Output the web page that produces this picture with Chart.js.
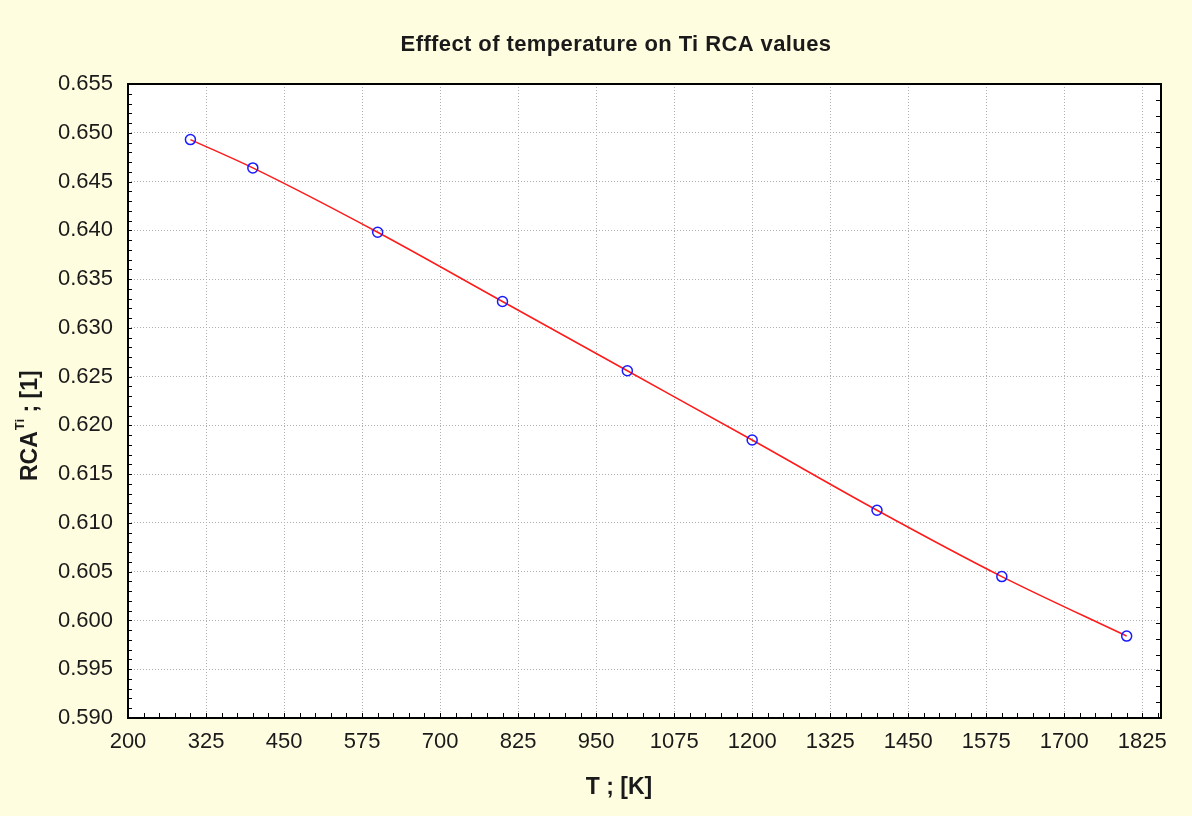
<!DOCTYPE html>
<html>
<head>
<meta charset="utf-8">
<script src="https://cdn.jsdelivr.net/npm/chart.js@4"></script>
<style>
  html, body { margin: 0; padding: 0; background: #fffde0; }
  canvas { display: block; }
</style>
</head>
<body>
<canvas id="chart" width="1192" height="816"></canvas>
<script>
// data
const temps = [300, 400, 600, 800, 1000, 1200, 1400, 1600, 1800];
const rca = [0.6493, 0.6464, 0.6398, 0.6327, 0.6256, 0.6185, 0.6113, 0.6045, 0.5984];
const xTicks = [200, 325, 450, 575, 700, 825, 950, 1075, 1200, 1325, 1450, 1575, 1700, 1825];
const yTicks = [0.590, 0.595, 0.600, 0.605, 0.610, 0.615, 0.620, 0.625, 0.630, 0.635, 0.640, 0.645, 0.650, 0.655];

const sans = '"Liberation Sans", Arial, sans-serif';
const ink = '#1a1a1a';

// background, white plot area, frame, minor ticks and texts
const decor = {
  id: 'decor',
  beforeDraw(chart) {
    const { ctx, chartArea: a } = chart;
    ctx.save();
    ctx.fillStyle = '#fffde0';
    ctx.fillRect(0, 0, chart.width, chart.height);
    ctx.fillStyle = '#ffffff';
    ctx.fillRect(a.left, a.top, a.right - a.left, a.bottom - a.top);
    ctx.restore();
  },
  afterDraw(chart) {
    const { ctx, chartArea: a, scales: { x, y } } = chart;
    ctx.save();
    ctx.strokeStyle = '#000';
    ctx.lineWidth = 1;
    ctx.beginPath();
    // bottom ticks, every 25
    for (let v = 200; v <= x.max; v += 25) {
      const px = Math.round(x.getPixelForValue(v)) + 0.5;
      ctx.moveTo(px, a.bottom); ctx.lineTo(px, a.bottom - 5);
    }
    // left ticks, every 0.001
    for (let i = 0; i <= 65; i++) {
      const py = Math.round(y.getPixelForValue(0.590 + i * 0.001)) + 0.5;
      ctx.moveTo(a.left, py); ctx.lineTo(a.left + 4, py);
    }
    // right ticks, 40 divisions
    for (let i = 1; i < 40; i++) {
      const py = Math.round(y.getPixelForValue(0.590 + i * 0.065 / 40)) + 0.5;
      ctx.moveTo(a.right, py); ctx.lineTo(a.right - 5, py);
    }
    ctx.stroke();
    ctx.lineWidth = 2;
    ctx.strokeRect(a.left, a.top, a.right - a.left, a.bottom - a.top);

    // title
    ctx.fillStyle = ink;
    ctx.textAlign = 'center';
    ctx.textBaseline = 'middle';
    ctx.font = 'bold 22px ' + sans;
    ctx.letterSpacing = '0.4px';
    ctx.fillText('Efffect of temperature on Ti RCA values', 616, 45);
    ctx.letterSpacing = '0px';

    // x title
    ctx.font = 'bold 23px ' + sans;
    ctx.fillText('T ; [K]', 619, 788);

    // y title with superscript
    ctx.translate(31, 481);
    ctx.rotate(-Math.PI / 2);
    ctx.textAlign = 'left';
    ctx.font = 'bold 23px ' + sans;
    ctx.fillText('RCA', 0, 0);
    let w = ctx.measureText('RCA').width + 1;
    ctx.font = 'bold 13px ' + sans;
    ctx.fillText('Ti', w, -11);
    w += ctx.measureText('Ti').width;
    ctx.font = 'bold 23px ' + sans;
    ctx.fillText(' ; [1]', w, 0);
    ctx.restore();
  }
};

new Chart(document.getElementById('chart'), {
  type: 'line',
  data: {
    datasets: [{
      data: temps.map((t, i) => ({ x: t, y: rca[i] })),
      borderColor: '#ff1a1a',
      borderWidth: 1.5,
      cubicInterpolationMode: 'monotone',
      pointRadius: 5,
      pointBorderWidth: 1.5,
      pointBorderColor: '#1a1aff',
      pointBackgroundColor: 'rgba(0,0,0,0)'
    }]
  },
  options: {
    responsive: false,
    animation: false,
    layout: { padding: { left: 0, top: 84, right: 31, bottom: 0 } },
    plugins: { legend: { display: false }, title: { display: false }, tooltip: { enabled: false } },
    scales: {
      x: {
        type: 'linear', min: 200, max: 1855,
        afterBuildTicks: s => { s.ticks = xTicks.map(v => ({ value: v })); },
        afterFit: s => { s.height = 98; },
        ticks: { padding: 11, autoSkip: false, maxRotation: 0, color: ink,
                 font: { family: sans, size: 22 }, callback: v => String(v) },
        grid: { color: '#b0b0b0', lineWidth: 1, drawTicks: false },
        border: { display: false, dash: [1, 2] }
      },
      y: {
        type: 'linear', min: 0.590, max: 0.655,
        afterBuildTicks: s => { s.ticks = yTicks.map(v => ({ value: v })); },
        afterFit: s => { s.width = 128; },
        ticks: { padding: 15, autoSkip: false, color: ink,
                 font: { family: sans, size: 22 }, callback: v => v.toFixed(3) },
        grid: { color: '#b0b0b0', lineWidth: 1, drawTicks: false },
        border: { display: false, dash: [1, 2] }
      }
    }
  },
  plugins: [decor]
});
</script>
</body>
</html>
